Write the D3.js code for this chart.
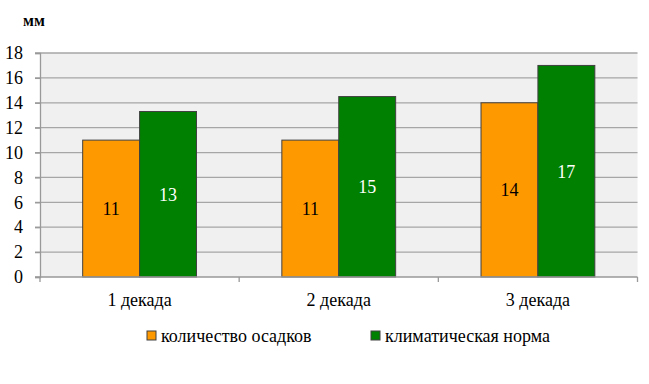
<!DOCTYPE html>
<html>
<head>
<meta charset="utf-8">
<script src="https://cdn.jsdelivr.net/npm/d3@7"></script>
<style>
  html, body { margin: 0; padding: 0; background: #fff; }
  svg { display: block; }
</style>
</head>
<body>
<svg id="chart" width="649" height="384"></svg>
<script>
const categories = ["1 декада", "2 декада", "3 декада"];
const seriesNames = ["количество осадков", "климатическая норма"];
const precipitation = [11, 11, 14];
const climateNorm = [13.3, 14.5, 17];
const yTicks = [0, 2, 4, 6, 8, 10, 12, 14, 16, 18];
const colors = ["#ff9900", "#008000"];
const labelColors = ["#000000", "#ffffff"];
const unitLabel = "мм";

(function () {
const FONT = "'Liberation Serif', 'Times New Roman', serif";
const FS = "18px";
const series = [precipitation, climateNorm];

const svg = d3.select("#chart");
const pLeft = 40, pRight = 637.5, pTop = 53, pBottom = 277;

const x = d3.scaleBand().domain(categories).range([pLeft, pRight]).paddingInner(0).paddingOuter(0);
// Excel-like gap width 150%: bar = band / 3.5
const barW = x.bandwidth() / 3.5;
const y = d3.scaleLinear().domain([0, 18]).range([pBottom, pTop]);

// plot background
svg.append("rect")
  .attr("x", pLeft).attr("y", pTop)
  .attr("width", pRight - pLeft).attr("height", pBottom - pTop)
  .attr("fill", "#f0f0f0");

// gridlines
svg.append("g")
  .selectAll("line")
  .data(yTicks.filter(d => d > 0))
  .join("line")
  .attr("x1", pLeft - 5).attr("x2", pRight)
  .attr("y1", d => y(d)).attr("y2", d => y(d))
  .attr("stroke", "#a6a6a6").attr("stroke-width", 1.3);

// y axis
const yAxis = d3.axisLeft(y).tickValues(yTicks).tickSize(5).tickPadding(12).tickFormat(d3.format("d"));
const gy = svg.append("g").attr("transform", `translate(${pLeft},0)`).call(yAxis);
gy.attr("font-family", null).attr("font-size", null);
gy.select(".domain").attr("stroke", "#999").attr("stroke-width", 1.3);
gy.selectAll(".tick line").attr("stroke", "#999").attr("stroke-width", 1.3);
gy.selectAll(".tick text").style("font-size", FS).attr("fill", "#000")
  .style("font-family", FONT);

// bars
series.forEach((vals, si) => {
  svg.append("g").selectAll("rect")
    .data(vals)
    .join("rect")
    .attr("x", (d, i) => x(categories[i]) + x.bandwidth() / 2 - barW + si * barW)
    .attr("y", d => y(d))
    .attr("width", barW)
    .attr("height", d => y(0) - y(d))
    .attr("fill", colors[si])
    .attr("stroke", "#404040")
    .attr("stroke-width", 1);
});

// x axis
const xAxisLine = svg.append("g");
xAxisLine.append("line")
  .attr("x1", pLeft - 5).attr("x2", pRight)
  .attr("y1", pBottom).attr("y2", pBottom)
  .attr("stroke", "#999").attr("stroke-width", 1.3);
const bounds = categories.map(c => x(c)).concat([x(categories[categories.length - 1]) + x.bandwidth()]);
xAxisLine.selectAll("line.tk")
  .data(bounds)
  .join("line")
  .attr("class", "tk")
  .attr("x1", d => d).attr("x2", d => d)
  .attr("y1", pBottom).attr("y2", pBottom + 5)
  .attr("stroke", "#999").attr("stroke-width", 1.3);

svg.append("g").selectAll("text")
  .data(categories)
  .join("text")
  .attr("x", d => x(d) + x.bandwidth() / 2)
  .attr("y", 306)
  .attr("text-anchor", "middle")
  .style("font-size", FS)
  .style("font-family", FONT)
  .attr("fill", "#000")
  .text(d => d);

// data labels
const fmt = d3.format(".0f");
series.forEach((vals, si) => {
  svg.append("g").selectAll("text")
    .data(vals)
    .join("text")
    .attr("x", (d, i) => x(categories[i]) + x.bandwidth() / 2 - barW / 2 + si * barW)
    .attr("y", d => (y(d) + y(0)) / 2)
    .attr("dy", "0.35em")
    .attr("text-anchor", "middle")
    .style("font-size", FS)
    .style("font-family", FONT)
    .attr("fill", labelColors[si])
    .text(d => fmt(d));
});

// unit label
svg.append("text")
  .attr("x", 23).attr("y", 26)
  .style("font-size", "16px")
  .style("font-family", FONT)
  .attr("font-weight", "bold")
  .attr("fill", "#000")
  .text(unitLabel);

// legend
const legendX = [147, 371];
const leg = svg.append("g").selectAll("g")
  .data(seriesNames)
  .join("g")
  .attr("transform", (d, i) => `translate(${legendX[i]},0)`);
leg.append("rect")
  .attr("x", 0).attr("y", 331)
  .attr("width", 9).attr("height", 9)
  .attr("fill", (d, i) => colors[i])
  .attr("stroke", "#404040").attr("stroke-width", 1);
leg.append("text")
  .attr("x", 14).attr("y", 342)
  .style("font-size", FS)
  .style("font-family", FONT)
  .attr("fill", "#000")
  .text(d => d);
})();
</script>
</body>
</html>
